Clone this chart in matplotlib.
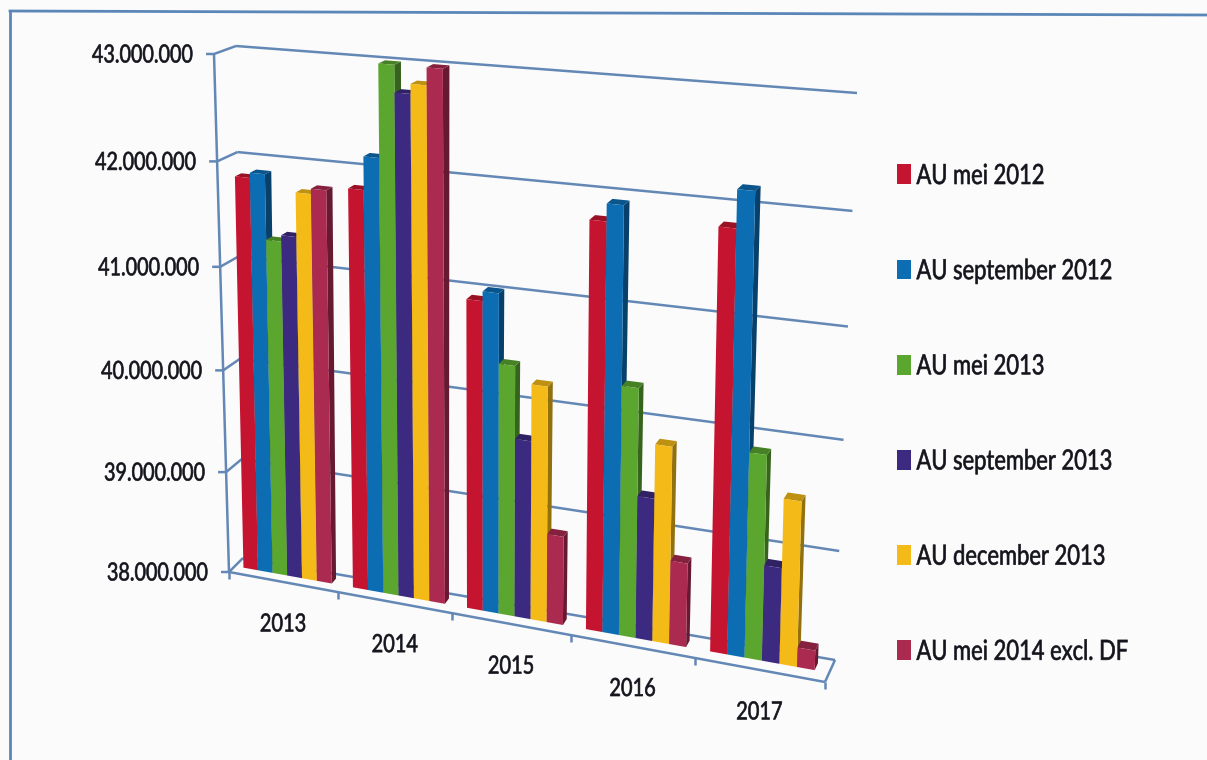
import numpy as np
import matplotlib
matplotlib.use('Agg')
import matplotlib.pyplot as plt
from matplotlib.colors import to_rgb
from matplotlib.patheffects import AbstractPathEffect
from matplotlib.transforms import Affine2D, Transform

plt.rcParams['font.family'] = ['Lato', 'DejaVu Sans']

years = ['2013', '2014', '2015', '2016', '2017']
y_ticks = [38000000, 39000000, 40000000, 41000000, 42000000, 43000000]
y_labels = ['38.000.000', '39.000.000', '40.000.000', '41.000.000', '42.000.000', '43.000.000']

au_mei_2012 = [41830000, 41830000, 40930000, 41780000, 41840000]
au_sep_2012 = [41880000, 42140000, 41020000, 41940000, 42180000]
au_mei_2013 = [41260000, 43000000, 40370000, 40320000, 39880000]
au_sep_2013 = [41320000, 42750000, 39690000, 39330000, 38880000]
au_dec_2013 = [41740000, 42840000, 40220000, 39830000, 39510000]
au_mei_2014 = [41790000, 43000000, 38840000, 38780000, 38180000]

series = [au_mei_2012, au_sep_2012, au_mei_2013, au_sep_2013, au_dec_2013, au_mei_2014]
names = ['AU mei 2012', 'AU september 2012', 'AU mei 2013', 'AU september 2013',
         'AU december 2013', 'AU mei 2014 excl. DF']
colors = ['#c5142f', '#0c6db3', '#5ba62f', '#3c2a80', '#f4ba18', '#aa2a50']

# corners of the box in pixels: bottom left, bottom right, top right, top left
front_plane = np.array([[229, 572], [825, 682], [839, 109], [214, 54]], float)
back_plane = np.array([[243, 558], [835, 660], [857, 93], [236, 46]], float)

line_col = '#6488b5'
text_col = '#14141c'
bar_front = 0.42
bar_back = 0.74
bar_start = 0.08
bar_w = 0.135


class Box(Transform):
    # maps (category position, value) onto a tilted plane of the box
    input_dims = 2
    output_dims = 2

    def __init__(self, depth):
        super().__init__()
        q = front_plane + (back_plane - front_plane) * depth
        src = [(0, 0), (1, 0), (1, 1), (0, 1)]
        a, b = [], []
        for (u, v), (px, py) in zip(src, q):
            a.append([u, v, 1, 0, 0, 0, -u * px, -v * px])
            a.append([0, 0, 0, u, v, 1, -u * py, -v * py])
            b += [px, py]
        self.h = np.append(np.linalg.solve(np.array(a), np.array(b)), 1).reshape(3, 3)

    def transform_non_affine(self, values):
        values = np.asarray(values, float)
        u = values[:, 0] / 5
        v = (values[:, 1] - y_ticks[0]) / (y_ticks[-1] - y_ticks[0])
        p = np.column_stack([u, v, np.ones(len(u))]) @ self.h.T
        return p[:, :2] / p[:, 2:]


class Narrow(AbstractPathEffect):
    # no condensed font here, so squeeze the glyphs sideways and thicken them a bit
    def __init__(self, sx, keep=0.0):
        super().__init__()
        self.sx = sx
        self.keep = keep  # 0 keeps left edge, 0.5 centre, 1 right edge

    def draw_path(self, renderer, gc, tpath, affine, rgbFace=None):
        w = tpath.get_extents().x1
        squeeze = Affine2D().scale(self.sx, 1).translate((1 - self.sx) * w * self.keep, 0)
        gc0 = renderer.new_gc()
        gc0.copy_properties(gc)
        gc0.set_linewidth(0.45)
        gc0.set_foreground(rgbFace)
        renderer.draw_path(gc0, tpath, squeeze + affine, rgbFace)
        gc0.restore()


fig = plt.figure(figsize=(12.07, 7.6), dpi=100, facecolor='#fbfbfc')
ax = fig.add_axes([0, 0, 1, 1])
ax.set_xlim(0, 1207)
ax.set_ylim(760, 0)
ax.axis('off')

front = Box(0)
back = Box(1)
near = Box(bar_front)
far = Box(bar_back)

# scan frame
ax.plot([10, 1207], [11, 15], color='#5b87b8', lw=2)
ax.plot([10, 10], [11, 760], color='#5b87b8', lw=2)

# walls
grid_kw = dict(color=line_col, lw=1.8, solid_capstyle='butt')
for v, lab in zip(y_ticks, y_labels):
    ax.plot([0, 5], [v, v], transform=back + ax.transData, **grid_kw)
    p0 = front.transform([[0, v]])[0]
    p1 = back.transform([[0, v]])[0]
    ax.plot([p0[0] - 8, p0[0], p1[0]], [p0[1], p0[1], p1[1]], **grid_kw)
    ax.text(p0[0] - 21, p0[1] + 1, lab, ha='right', va='center', fontsize=18, color=text_col,
            path_effects=[Narrow(0.79, 1)])

ax.plot([0, 0], y_ticks[::5], transform=front + ax.transData, **grid_kw)
ax.plot([0, 5], [y_ticks[0]] * 2, transform=front + ax.transData, **grid_kw)
for i in range(6):
    p0 = front.transform([[i, y_ticks[0]]])[0]
    ax.plot([p0[0], p0[0]], [p0[1], p0[1] + 7], **grid_kw)
p0 = front.transform([[5, y_ticks[0]]])[0]
p1 = back.transform([[5, y_ticks[0]]])[0]
ax.plot([p0[0], p1[0]], [p0[1], p1[1]], **grid_kw)

# bars, left to right so the next front face covers the side of the previous one
for c in range(len(years)):
    for s, vals in enumerate(series):
        col = np.array(to_rgb(colors[s]))
        x0 = c + bar_start + s * bar_w
        x1 = x0 + bar_w
        v = vals[c]
        base = y_ticks[0]
        a = near.transform([[x1, base], [x1, v], [x0, v]])
        b = far.transform([[x1, base], [x1, v], [x0, v]])
        ax.fill([a[0, 0], a[1, 0], b[1, 0], b[0, 0]], [a[0, 1], a[1, 1], b[1, 1], b[0, 1]],
                color=col * 0.6, lw=0, zorder=3)
        ax.fill([a[2, 0], a[1, 0], b[1, 0], b[2, 0]], [a[2, 1], a[1, 1], b[1, 1], b[2, 1]],
                color=col * 0.78, lw=0, zorder=3)
        ax.bar(x0, v - base, width=bar_w, bottom=base, align='edge', color=colors[s], lw=0,
               transform=near + ax.transData, zorder=3,
               label=names[s] if c == 0 else None)

for c, year in enumerate(years):
    p = front.transform([[c + 0.5, y_ticks[0]]])[0]
    ax.text(p[0], p[1] + 42, year, ha='center', va='center', fontsize=18, color=text_col,
            path_effects=[Narrow(0.8, 0.5)])

ax.set_xlim(0, 1207)
ax.set_ylim(760, 0)

leg = ax.legend(loc='upper left', bbox_to_anchor=(897 / 1207, 1 - 163 / 760), frameon=False,
                fontsize=20, labelspacing=2.49, handlelength=0.5, handleheight=0.72,
                handletextpad=0.2, borderpad=0, borderaxespad=0, labelcolor=text_col)
for t in leg.get_texts():
    t.set_path_effects([Narrow(0.79)])

fig.savefig('out.png', dpi=100, facecolor=fig.get_facecolor())
